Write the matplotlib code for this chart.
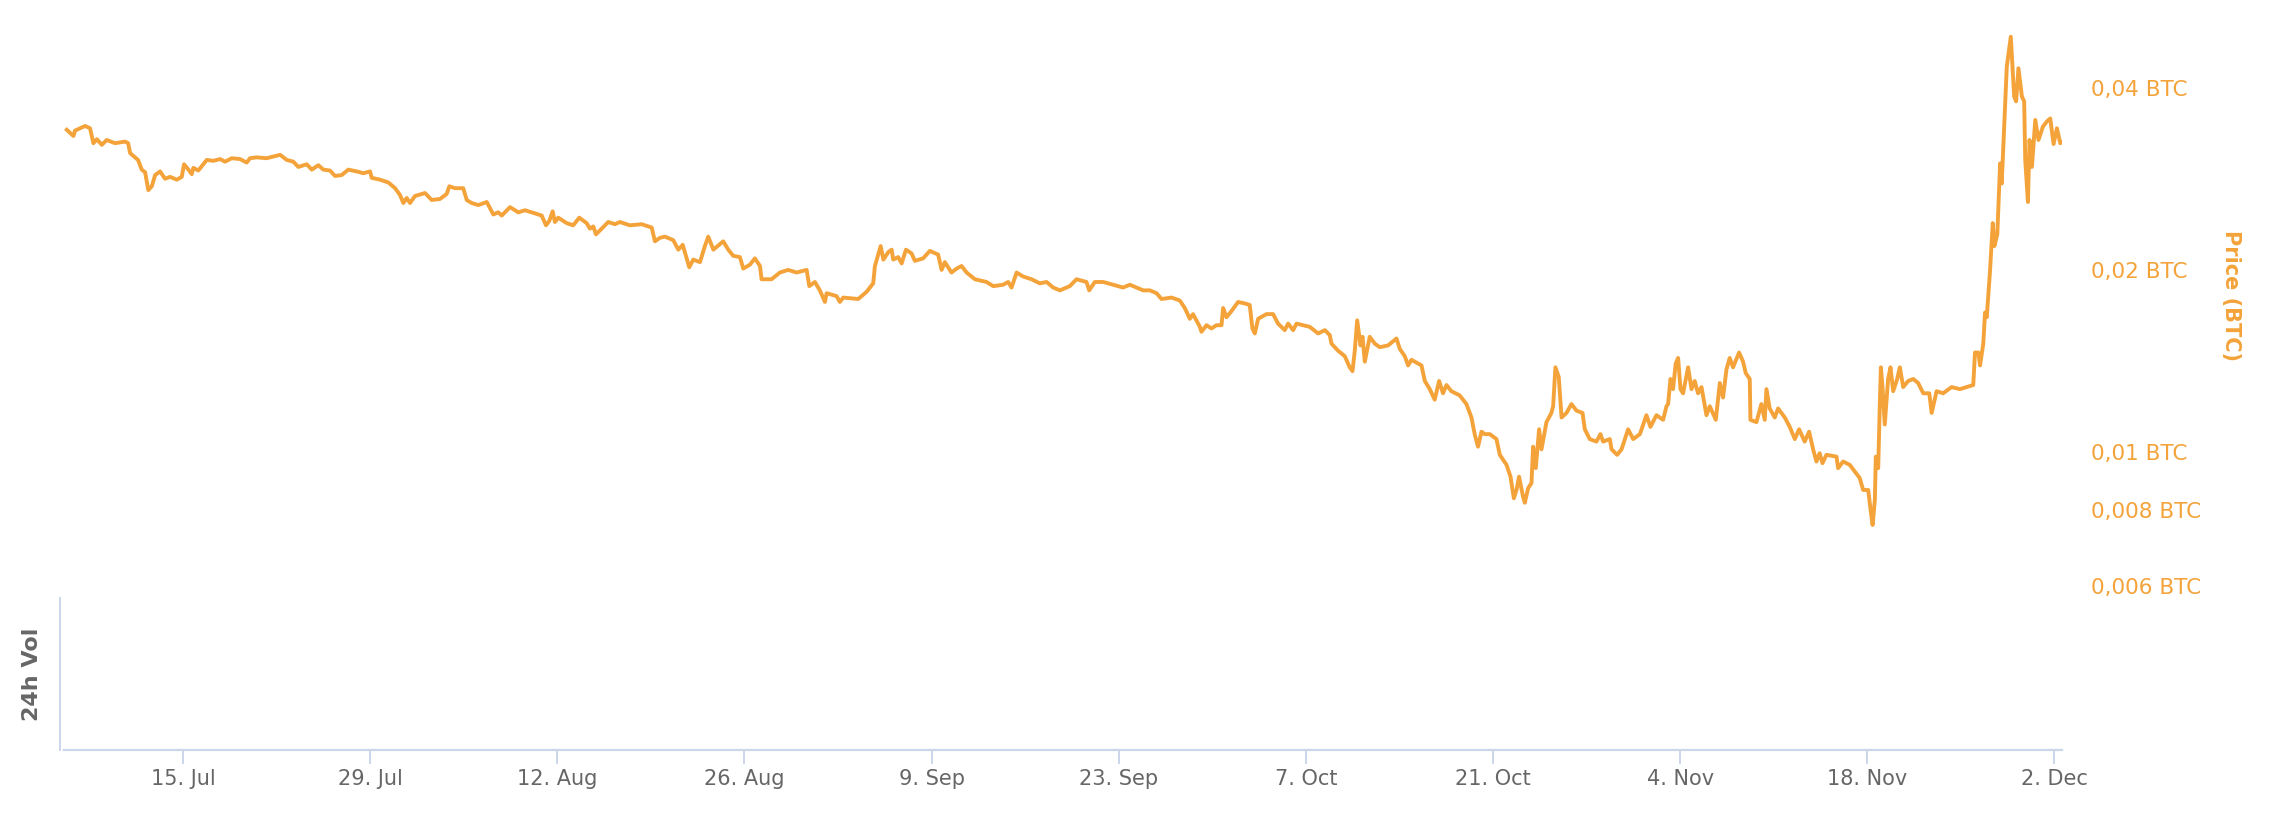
import numpy as np
import pandas as pd
import matplotlib
matplotlib.use("Agg")
import matplotlib.pyplot as plt
from matplotlib.ticker import FixedLocator, FuncFormatter, NullLocator

# price history, days counted from 1 Jul 2019
start = pd.Timestamp("2019-07-01")
day = [
    5.30, 5.80, 5.92, 6.67, 7.04, 7.29, 7.55, 7.92, 8.29, 8.91, 9.66, 9.89,
    10.04, 10.63, 10.91, 11.16, 11.40, 11.66, 11.91, 12.28, 12.65, 13.03, 13.53, 13.90,
    14.07, 14.40, 14.65, 14.77, 15.14, 15.77, 16.27, 16.77, 17.14, 17.64, 18.26, 18.76,
    19.01, 19.51, 20.26, 21.26, 21.76, 22.25, 22.62, 23.25, 23.63, 24.12, 24.49, 24.99,
    25.37, 25.87, 26.36, 26.99, 27.49, 27.99, 28.11, 28.73, 29.36, 29.86, 30.23, 30.48,
    30.73, 30.98, 31.35, 32.10, 32.60, 33.22, 33.72, 33.92, 34.34, 34.96, 35.22, 35.59,
    36.09, 36.72, 37.21, 37.58, 37.84, 38.46, 39.08, 39.58, 40.33, 40.83, 41.15, 41.40,
    41.65, 41.82, 42.07, 42.70, 43.19, 43.64, 44.19, 44.44, 44.69, 44.89, 45.32, 45.81,
    46.31, 46.68, 47.43, 48.31, 49.06, 49.30, 49.68, 50.05, 50.67, 51.05, 51.38, 51.87,
    52.17, 52.67, 53.04, 53.29, 53.67, 54.41, 54.79, 55.16, 55.66, 55.91, 56.41, 56.78,
    57.16, 57.28, 58.03, 58.65, 59.27, 59.90, 60.65, 60.85, 61.27, 61.64, 62.02, 62.15,
    62.89, 63.14, 63.39, 64.51, 65.14, 65.63, 65.76, 66.01, 66.19, 66.39, 66.76, 67.01,
    67.13, 67.50, 67.76, 68.08, 68.50, 68.75, 69.37, 69.87, 70.49, 70.75, 70.99, 71.49,
    71.87, 72.24, 72.62, 73.24, 74.11, 74.61, 75.35, 75.73, 75.98, 76.36, 76.85, 77.48,
    78.10, 78.60, 79.10, 79.60, 80.34, 80.84, 81.59, 81.79, 82.21, 82.84, 83.58, 84.33,
    84.83, 85.33, 85.83, 86.33, 86.83, 87.20, 87.95, 88.57, 88.94, 89.32, 89.56, 90.07,
    90.19, 90.57, 90.94, 91.31, 91.69, 91.81, 92.06, 92.44, 92.93, 93.43, 93.80, 94.00,
    94.18, 94.43, 95.05, 95.55, 95.92, 96.42, 96.67, 97.05, 97.30, 98.29, 98.92, 99.42,
    99.79, 99.92, 100.41, 100.91, 101.28, 101.49, 101.66, 101.84, 102.09, 102.24, 102.41, 102.78,
    103.16, 103.53, 104.15, 104.78, 105.03, 105.40, 105.65, 105.90, 106.65, 106.90, 107.27, 107.64,
    107.97, 108.26, 108.52, 108.89, 109.51, 110.01, 110.39, 110.63, 110.88, 111.14, 111.38, 111.76,
    112.26, 112.51, 113.01, 113.31, 113.56, 113.76, 113.95, 114.25, 114.38, 114.63, 114.88, 115.00,
    115.20, 115.45, 115.63, 116.00, 116.37, 116.50, 116.67, 116.92, 117.13, 117.50, 117.87, 118.25,
    118.70, 118.87, 119.24, 119.74, 120.04, 120.24, 120.74, 120.87, 121.29, 121.62, 122.11, 122.49,
    122.99, 123.48, 123.78, 124.23, 124.73, 124.98, 125.10, 125.28, 125.47, 125.67, 125.85, 126.03,
    126.22, 126.60, 126.85, 127.09, 127.34, 127.60, 127.97, 128.22, 128.67, 128.97, 129.21, 129.47,
    129.71, 129.96, 130.41, 130.71, 130.91, 131.21, 131.26, 131.71, 132.08, 132.33, 132.46, 132.70,
    133.08, 133.33, 133.83, 134.20, 134.58, 134.90, 135.32, 135.65, 135.95, 136.20, 136.44, 136.65,
    136.95, 137.70, 137.82, 138.19, 138.69, 139.07, 139.44, 139.69, 140.07, 140.25, 140.40, 140.57,
    140.64, 140.82, 140.94, 141.02, 141.14, 141.31, 141.56, 141.74, 141.94, 142.24, 142.44, 142.69,
    143.06, 143.44, 143.81, 144.19, 144.64, 144.82, 145.19, 145.68, 146.31, 146.93, 147.93, 148.06,
    148.31, 148.44, 148.68, 148.81, 148.94, 149.19, 149.39, 149.51, 149.73, 149.94, 150.06, 150.31,
    150.44, 150.74, 150.99, 151.14, 151.31, 151.57, 151.74, 151.82, 152.02, 152.14, 152.32, 152.57,
    152.81, 153.14, 153.44, 153.69, 153.94, 154.19, 154.44, 154.57,
]
price = [
    0.0341, 0.0333, 0.0340, 0.0346, 0.0343, 0.0324, 0.0329, 0.0322, 0.0328, 0.0324, 0.0326, 0.0324,
    0.0312, 0.0304, 0.0293, 0.0290, 0.0271, 0.0275, 0.0287, 0.0291, 0.0283, 0.0285, 0.0282, 0.0285,
    0.0299, 0.0293, 0.0288, 0.0295, 0.0292, 0.0304, 0.0303, 0.0305, 0.0302, 0.0306, 0.0305, 0.0301,
    0.0306, 0.0307, 0.0306, 0.0310, 0.0304, 0.0302, 0.0296, 0.0299, 0.0293, 0.0298, 0.0293, 0.0292,
    0.0286, 0.0287, 0.0293, 0.0291, 0.0289, 0.0291, 0.0284, 0.0282, 0.0279, 0.0273, 0.0266, 0.0258,
    0.0263, 0.0258, 0.0265, 0.0268, 0.0261, 0.0262, 0.0267, 0.0275, 0.0273, 0.0273, 0.0261, 0.0258,
    0.0256, 0.0259, 0.0247, 0.0249, 0.0246, 0.0254, 0.0249, 0.0251, 0.0248, 0.0246, 0.0237, 0.0241,
    0.0250, 0.0240, 0.0244, 0.0239, 0.0237, 0.0244, 0.0239, 0.0234, 0.0236, 0.0229, 0.0234, 0.0240,
    0.0238, 0.0240, 0.0237, 0.0238, 0.0235, 0.0223, 0.0226, 0.0227, 0.0224, 0.0216, 0.0220, 0.0202,
    0.0208, 0.0206, 0.0219, 0.0227, 0.0216, 0.0223, 0.0216, 0.0211, 0.0210, 0.0201, 0.0204, 0.0209,
    0.0203, 0.0193, 0.0193, 0.0198, 0.0200, 0.0198, 0.0200, 0.0188, 0.0191, 0.0185, 0.0177, 0.0183,
    0.0181, 0.0177, 0.0180, 0.0179, 0.0184, 0.0190, 0.0203, 0.0212, 0.0219, 0.0208, 0.0214, 0.0216,
    0.0208, 0.0210, 0.0205, 0.0216, 0.0213, 0.0207, 0.0209, 0.0215, 0.0212, 0.0200, 0.0206, 0.0198,
    0.0201, 0.0203, 0.0198, 0.0193, 0.0191, 0.0188, 0.0189, 0.0191, 0.0187, 0.0198, 0.0195, 0.0193,
    0.0190, 0.0191, 0.0187, 0.0185, 0.0188, 0.0193, 0.0191, 0.0185, 0.0191, 0.0191, 0.0189, 0.0187,
    0.0189, 0.0187, 0.0185, 0.0185, 0.0183, 0.0179, 0.0180, 0.0178, 0.0173, 0.0166, 0.0169, 0.0161,
    0.0158, 0.0162, 0.0160, 0.0162, 0.0162, 0.0173, 0.0167, 0.0171, 0.0177, 0.0176, 0.0175, 0.0160,
    0.0157, 0.0166, 0.0169, 0.0169, 0.0163, 0.0159, 0.0163, 0.0159, 0.0163, 0.0161, 0.0157, 0.0159,
    0.0156, 0.0151, 0.0147, 0.0144, 0.0138, 0.0136, 0.0147, 0.0165, 0.0150, 0.0155, 0.0141, 0.0155,
    0.0151, 0.0149, 0.0150, 0.0154, 0.0148, 0.0144, 0.0139, 0.0142, 0.0139, 0.0131, 0.0127, 0.0122,
    0.0131, 0.0125, 0.0129, 0.0126, 0.0124, 0.0120, 0.0114, 0.0107, 0.0102, 0.0108, 0.0107, 0.0107,
    0.0105, 0.00989, 0.00952, 0.00910, 0.00838, 0.00865, 0.00910, 0.00843, 0.00824, 0.00871, 0.00888, 0.0102,
    0.00940, 0.0109, 0.0101, 0.0112, 0.0116, 0.0119, 0.0138, 0.0133, 0.0114, 0.0116, 0.0120, 0.0117,
    0.0116, 0.0109, 0.0105, 0.0104, 0.0107, 0.0104, 0.0105, 0.0101, 0.00989, 0.0101, 0.0109, 0.0105,
    0.0107, 0.0115, 0.0110, 0.0115, 0.0113, 0.0119, 0.0120, 0.0132, 0.0127, 0.0140, 0.0143, 0.0127,
    0.0125, 0.0138, 0.0127, 0.0131, 0.0125, 0.0128, 0.0115, 0.0119, 0.0113, 0.0130, 0.0123, 0.0137,
    0.0143, 0.0138, 0.0146, 0.0141, 0.0135, 0.0132, 0.0113, 0.0112, 0.0120, 0.0113, 0.0127, 0.0118,
    0.0114, 0.0118, 0.0114, 0.0110, 0.0105, 0.0109, 0.0104, 0.0108, 0.0101, 0.00964, 0.00995, 0.00958,
    0.00989, 0.00982, 0.00940, 0.00964, 0.00952, 0.00928, 0.00905, 0.00865, 0.00865, 0.00802, 0.00757, 0.00833,
    0.00982, 0.00940, 0.0120, 0.0138, 0.0128, 0.0111, 0.0132, 0.0138, 0.0126, 0.0132, 0.0138, 0.0128,
    0.0131, 0.0132, 0.0130, 0.0125, 0.0125, 0.0116, 0.0126, 0.0125, 0.0128, 0.0127, 0.0129, 0.0146,
    0.0146, 0.0139, 0.0151, 0.0170, 0.0167, 0.0200, 0.0239, 0.0219, 0.0229, 0.0300, 0.0278, 0.0372,
    0.0434, 0.0486, 0.0387, 0.0380, 0.0431, 0.0387, 0.0380, 0.0304, 0.0259, 0.0328, 0.0296, 0.0354,
    0.0328, 0.0345, 0.0352, 0.0356, 0.0323, 0.0343, 0.0324, 0.0325,
]

price_ticks = [0.006, 0.008, 0.01, 0.02, 0.04]
tick_dates = pd.date_range("2019-07-15", "2019-12-02", freq="14D")

orange = "#f4a33a"
axis_col = "#ccd6eb"
grey = "#666666"

dates = start + pd.to_timedelta(day, unit="D")

fig = plt.figure(figsize=(22.74, 8.16), dpi=100)
ax = fig.add_axes([64 / 2274, 226 / 816, 1998 / 2274, 570 / 816])
axv = fig.add_axes([64 / 2274, 66 / 816, 1998 / 2274, 152 / 816])

ax.plot(dates, price, color=orange, lw=2.8, solid_joinstyle="round")
ax.set_yscale("log")
ax.set_ylim(0.00591, 0.0518)
xmin = dates[0] - pd.Timedelta(hours=5)
xmax = dates[-1]
ax.set_xlim(xmin, xmax)
axv.set_xlim(xmin, xmax)

for s in ax.spines.values():
    s.set_visible(False)
ax.xaxis.set_major_locator(NullLocator())
ax.yaxis.tick_right()
ax.yaxis.set_major_locator(FixedLocator(price_ticks))
ax.yaxis.set_minor_locator(NullLocator())
ax.yaxis.set_major_formatter(FuncFormatter(lambda v, p: f"{v:g} BTC".replace(".", ",")))
ax.tick_params(axis="y", length=0, pad=21, labelsize=15.5, labelcolor=orange)
fig.text(2231 / 2274, 1 - 296 / 816, "Price (BTC)", rotation=270, ha="center", va="center",
         color=orange, fontsize=15, fontweight="bold")

# empty volume pane
for k in ["top", "right"]:
    axv.spines[k].set_visible(False)
axv.spines["left"].set_color(axis_col)
axv.spines["left"].set_linewidth(1.4)
axv.spines["left"].set_position(("outward", 3))
axv.spines["bottom"].set_color(axis_col)
axv.spines["bottom"].set_linewidth(1.6)
axv.set_yticks([])
axv.set_xticks(tick_dates)
axv.set_xticklabels([f"{d.day}. {d.strftime('%b')}" for d in tick_dates])
axv.tick_params(axis="x", length=10, width=1.4, color=axis_col, labelcolor=grey,
                labelsize=15, pad=4)
fig.text(32 / 2274, 1 - 674 / 816, "24h Vol", rotation=90, ha="center", va="center",
         color=grey, fontsize=16, fontweight="bold")

fig.savefig("out.png", dpi=100)
